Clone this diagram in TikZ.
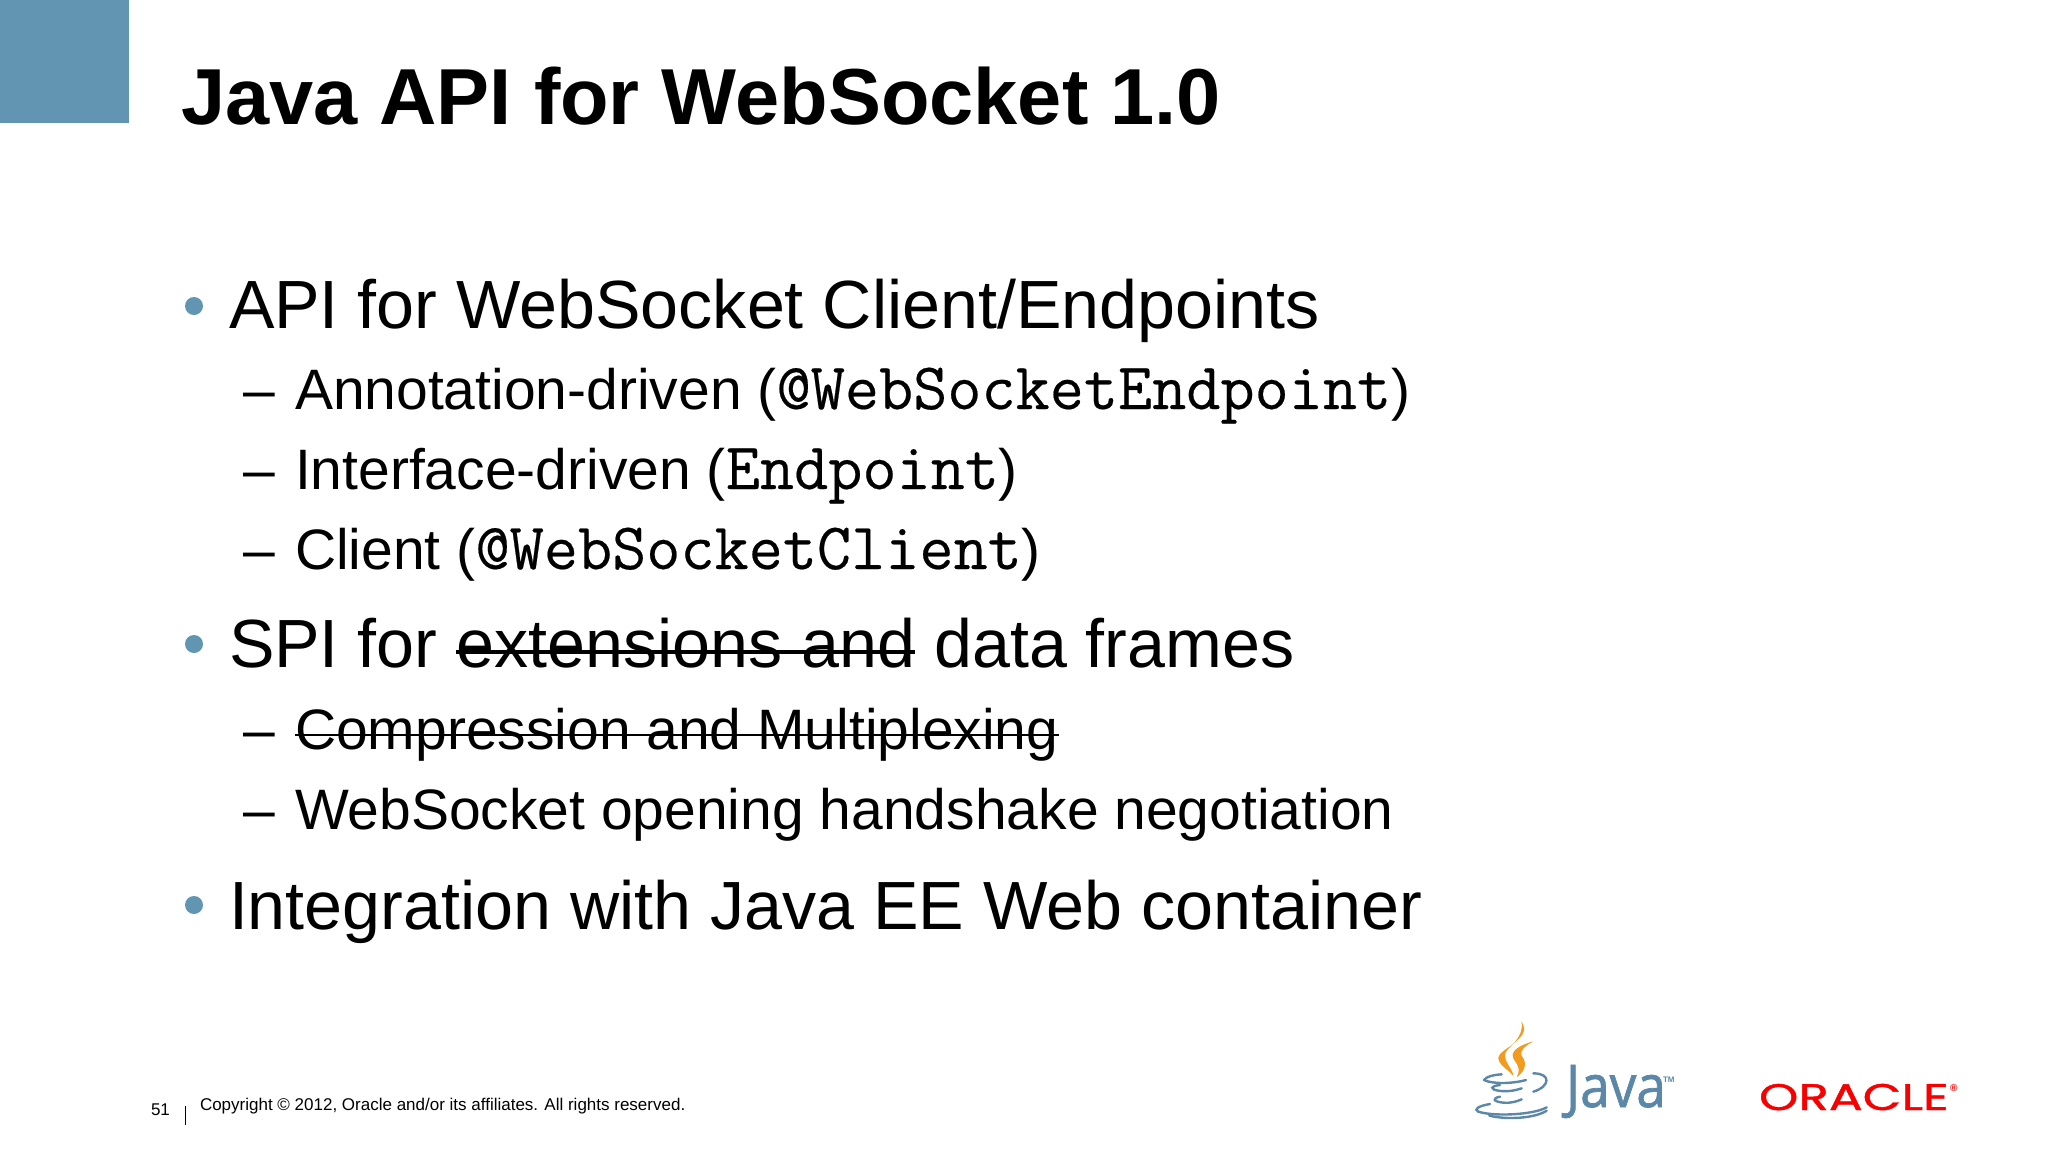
\documentclass[tikz,border=0pt]{standalone}
\usepackage{fontspec}
\setmainfont{Liberation Sans}
\newfontfamily\codefont{Latin Modern Mono}[FakeBold=.3]
\newfontfamily\javafont{Open Sans}[FakeStretch=.9,FakeBold=1.2]
\newfontfamily\orafont{Poppins}[FakeStretch=1.355,FakeBold=1.2]
\usetikzlibrary{positioning}
\definecolor{slideblue}{HTML}{6295B2}
\definecolor{javablue}{HTML}{5B88A8}
\definecolor{javaorange}{HTML}{F29C1F}
\definecolor{orared}{HTML}{F80000}
\tikzset{linetext/.style={anchor=base west,inner sep=0pt,outer sep=0pt},
	 lvlone/.style={linetext,font=\fontsize{68.2}{68}\selectfont},
	 lvltwo/.style={linetext,font=\fontsize{57}{57}\selectfont},
	 dot/.style={circle,fill=slideblue,inner sep=0pt,minimum size=18pt},
	 strike/.style={line width=3.5pt,black},
	 cupline/.style={javablue,line width=2.4pt,line cap=round},
	 flame/.style={fill=javaorange,draw=none}
	 }
\newcommand{\code}[1]{{\codefont\fontsize{66.3}{66}\selectfont #1}}
\begin{document}
\begin{tikzpicture}[x=1pt,y=-1pt]
	\useasboundingbox (0,0) rectangle (2048,1152);
	\fill[slideblue] (0,0) rectangle (129,123);
	\node[linetext,font=\fontsize{79.4}{80}\selectfont\bfseries] (title) at (181,124) {Java API for WebSocket 1.0};
	% first group
	\node[lvlone] (l1) at (229,328) {API for WebSocket Client/Endpoints};
	\node[lvltwo] (l2) at (295,409) {Annotation-driven (\code{@WebSocketEndpoint})};
	\node[lvltwo] (l3) at (295,489) {Interface-driven (\code{Endpoint})};
	\node[lvltwo] (l4) at (295,569) {Client (\code{@WebSocketClient})};
	% second group
	\node[lvlone] (l5) at (229,667) {SPI for};
	\node[lvlone] (l5b) at ([xshift=19pt]l5.base east) {extensions and};
	\node[lvlone] (l5c) at ([xshift=19pt]l5b.base east) {data frames};
	\node[lvltwo] (l6) at (295,749) {Compression and Multiplexing};
	\node[lvltwo] (l7) at (295,829) {WebSocket opening handshake negotiation};
	% third group
	\node[lvlone] (l8) at (229,929) {Integration with Java EE Web container};
	\draw[strike] ([yshift=15pt]l5b.base west) -- ([yshift=15pt]l5b.base east);
	\draw[strike,line width=2.5pt] ([yshift=14pt]l6.base west) -- ([yshift=14pt]l6.base east);
	\node[dot] (b1) at (194,306) {};
	\node[dot] (b2) at (194,644) {};
	\node[dot] (b3) at (194,905) {};
	\foreach \n/\yy in {1/409,2/489,3/569,4/749,5/829}
	  \node[lvltwo] (d\n) at (243,\yy) {--};
	% footer
	\node[linetext,font=\fontsize{17}{17}\selectfont] (num) at (151,1115) {51};
	\node[linetext,font=\fontsize{17}{17}\selectfont] (copy) at (200,1110) {Copyright © 2012, Oracle and/or its affiliates. All rights reserved.};
	\coordinate (bar1) at (185,1106); \coordinate (bar2) at (185,1125);
	\draw[line width=1pt] (bar1) -- (bar2);
	% java logo
	\node[linetext,font=\javafont\fontsize{59}{59}\selectfont,text=javablue] (java) at (1566,1107) {Java};
	\node[linetext,font=\fontsize{8}{8}\selectfont\bfseries,text=javablue] (tm) at (1663,1082) {TM};
	\begin{scope}[shift={(1470,1020)},x=.3333pt,y=-.3333pt]
	  \fill[flame] (154,4) .. controls (172,30) and (160,48) .. (125,75) .. controls (90,100) and (78,108) .. (88,125) .. controls (95,140) and (115,150) .. (130,167) .. controls (128,145) and (100,125) .. (106,100) .. controls (112,80) and (165,55) .. (154,4);
	  \fill[flame] (190,64) .. controls (160,72) and (132,85) .. (128,103) .. controls (125,125) and (160,135) .. (140,172) .. controls (170,150) and (170,125) .. (155,108) .. controls (148,92) and (165,78) .. (190,64);
	  \draw[cupline] (42,180) .. controls (50,168) and (75,164) .. (95,163);
	  \draw[cupline] (42,180) .. controls (65,192) and (125,192) .. (168,180);
	  \draw[cupline] (190,160) .. controls (245,160) and (240,200) .. (190,215);
	  \draw[cupline] (90,195) .. controls (60,198) and (60,208) .. (85,212) .. controls (110,216) and (135,212) .. (155,205);
	  \draw[cupline] (90,230) .. controls (65,235) and (70,245) .. (100,248) .. controls (120,250) and (140,245) .. (155,238);
	  \draw[cupline] (60,252) .. controls (25,258) and (10,268) .. (25,275) .. controls (70,290) and (190,285) .. (230,262);
	  \draw[cupline] (58,287) .. controls (110,300) and (195,295) .. (230,272);
	\end{scope}
	% oracle logo
	\node[linetext,font=\orafont\fontsize{37}{37}\selectfont,text=orared] (oracle) at (1759,1110) {ORACLE};
	\node[linetext,font=\fontsize{10}{10}\selectfont\bfseries,text=orared] (reg) at (1950,1091) {®};
\end{tikzpicture}
\end{document}
